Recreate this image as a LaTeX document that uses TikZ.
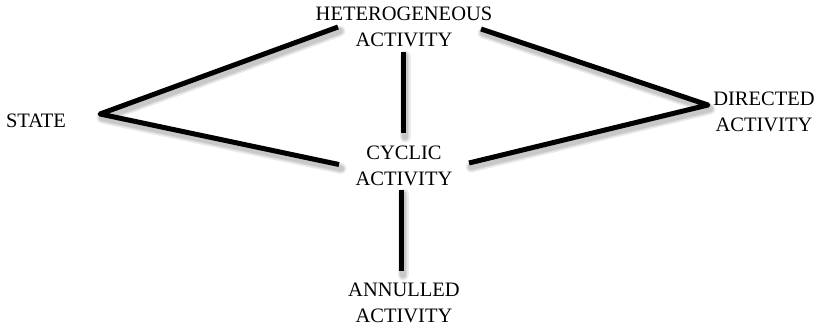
\documentclass[tikz,border=0pt]{standalone}
\usepackage{fontspec}
\setmainfont{Liberation Serif}
\begin{document}
\begin{tikzpicture}[x=1pt,y=-1pt,
  lbl/.style={align=center,inner sep=0pt,font=\fontsize{20.5}{26}\selectfont},
  conn/.style={line width=5pt,line join=round,line cap=butt,draw=black},
  shad/.style={line width=#1,line join=round,line cap=round,draw=black,opacity=0.08}]
\useasboundingbox (0,0) rectangle (818,329);
% text nodes
\node[lbl] (het) at (404,27) {HETEROGENEOUS\\ACTIVITY};
\node[lbl] (state) at (36,121) {STATE};
\node[lbl] (cyc) at (404,165.5) {CYCLIC\\ACTIVITY};
\node[lbl] (dir) at (764,111.5) {DIRECTED\\ACTIVITY};
\node[lbl] (ann) at (404,303) {ANNULLED\\ACTIVITY};
% connector anchor points
\coordinate (hetL) at (338,27);
\coordinate (hetR) at (481,29);
\coordinate (hetB) at (403,52);
\coordinate (sv) at (100,114);
\coordinate (cycL) at (339,164.5);
\coordinate (cycR) at (469,163);
\coordinate (cycT) at (403,133);
\coordinate (cycB) at (401,190);
\coordinate (dv) at (708,105);
\coordinate (annT) at (401,271);
% shadows
\foreach \w in {11pt,8pt,6pt}{
\begin{scope}[transform canvas={shift={(2pt,-4pt)}}]
  \draw[shad=\w] (hetL) -- (sv) -- (cycL);
  \draw[shad=\w] (hetR) -- (dv) -- (cycR);
  \draw[shad=\w] (hetB) -- (cycT);
  \draw[shad=\w] (cycB) -- (annT);
\end{scope}}
% connectors
\draw[conn] (hetL) -- (sv) -- (cycL);
\draw[conn] (hetR) -- (dv) -- (cycR);
\draw[conn] (hetB) -- (cycT);
\draw[conn] (cycB) -- (annT);
\end{tikzpicture}
\end{document}
